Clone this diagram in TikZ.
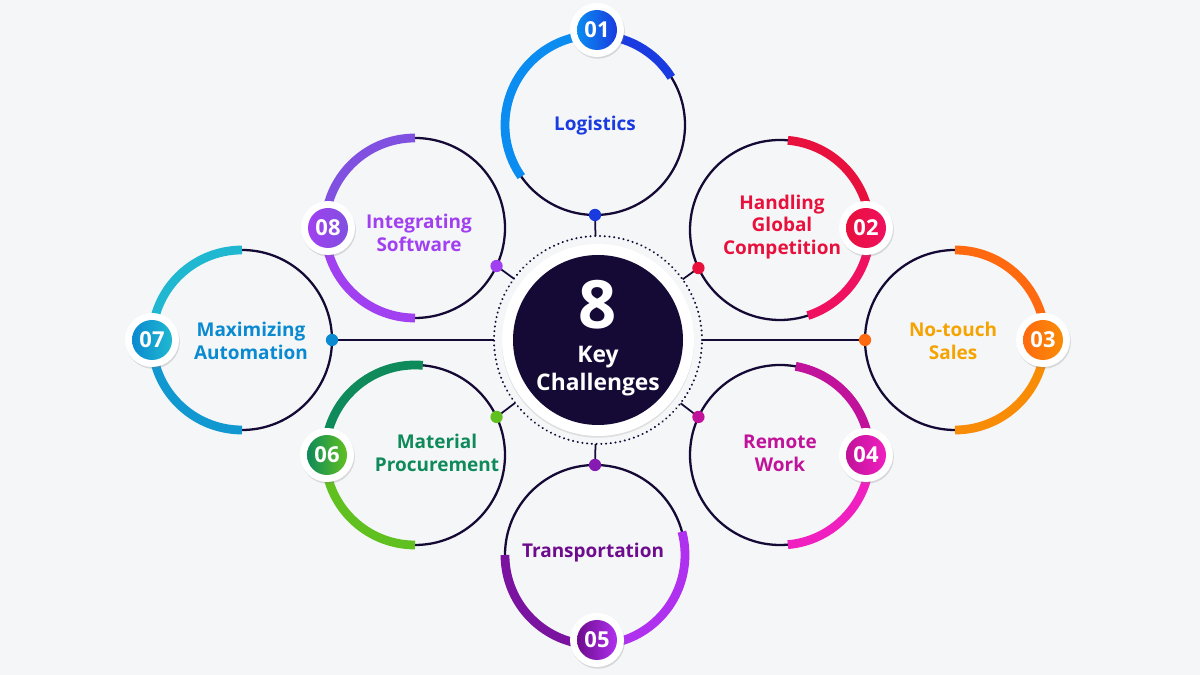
\documentclass[tikz,border=0pt]{standalone}
\usepackage{fontspec}
\setmainfont{Open Sans}
\usetikzlibrary{shadows,calc}
\definecolor{bg}{HTML}{F5F6F8}
\definecolor{navy}{HTML}{150A35}
\definecolor{cA}{HTML}{1A3BE0}\definecolor{cAa}{HTML}{0A8CF0}
\definecolor{cB}{HTML}{E8103C}\definecolor{cBb}{HTML}{F01060}
\definecolor{cC}{HTML}{F5A300}\definecolor{cCc}{HTML}{FF6A10}
\definecolor{cD}{HTML}{C0129A}\definecolor{cDd}{HTML}{F020C0}
\definecolor{cE}{HTML}{6D0C8C}\definecolor{cEe}{HTML}{B030F0}
\definecolor{cF}{HTML}{0F8A5A}\definecolor{cFf}{HTML}{60C020}
\definecolor{cG}{HTML}{0A8AD0}\definecolor{cGg}{HTML}{20B8D0}
\definecolor{cH}{HTML}{A040F0}\definecolor{cHh}{HTML}{8050E0}
\tikzset{
 ring/.style={draw=navy,line width=1.3pt},
 arcst/.style={line width=5pt},
 lbl/.style={font=\bfseries\fontsize{10.8}{13}\selectfont,align=center},
 num/.style={font=\bfseries\fontsize{12.5}{14}\selectfont,text=white},
 dotst/.style={circle,inner sep=0pt,minimum size=7pt},
}
\newcommand{\badge}[4]{% name, pos, c1, c2
 \fill[white,drop shadow={opacity=0.25,shadow xshift=0.5pt,shadow yshift=-1pt}] (#2) circle[radius=27];
 \shade[left color=#3,right color=#4] (#2) circle[radius=20];
 \node[num] (#1) at (#2) {#1};}
\begin{document}
\begin{tikzpicture}[x=0.02cm,y=0.02cm]
\fill[bg] (0,0) rectangle (1200,675);
\useasboundingbox (0,0) rectangle (1200,675);
\coordinate (C) at (598,335);
\coordinate (c1) at (595,550);
\coordinate (c2) at (780,445);
\coordinate (c3) at (955,335);
\coordinate (c4) at (780,220);
\coordinate (c5) at (595,120);
\coordinate (c6) at (415,220);
\coordinate (c7) at (242,335);
\coordinate (c8) at (415,447);
% dots
\foreach \c/\a/\n in {c1/270/d1,c2/205/d2,c3/180/d3,c4/155/d4,c5/90/d5,c6/25/d6,c7/0/d7,c8/335/d8}
  \coordinate (\n) at ($(\c)+(\a:90)$);
\foreach \n in {d1,d2,d3,d4,d5,d6,d7,d8} \draw[navy,line width=1pt] (C) -- (\n);
% circles
\foreach \c in {c1,c2,c3,c4,c5,c6,c7,c8} \draw[ring] (\c) circle[radius=90];
\draw[arcst,cAa] (c1) ++(215:90) arc[start angle=215,end angle=90,radius=90];
\draw[arcst,cA] (c1) ++(90:90) arc[start angle=90,end angle=32,radius=90];
\draw[arcst,cB] (c2) ++(85:90) arc[start angle=85,end angle=0,radius=90];
\draw[arcst,cBb] (c2) ++(0:90) arc[start angle=0,end angle=-72,radius=90];
\draw[arcst,cCc] (c3) ++(90:90) arc[start angle=90,end angle=0,radius=90];
\draw[arcst,cC!60!cCc] (c3) ++(0:90) arc[start angle=0,end angle=-90,radius=90];
\draw[arcst,cD] (c4) ++(80:90) arc[start angle=80,end angle=0,radius=90];
\draw[arcst,cDd] (c4) ++(0:90) arc[start angle=0,end angle=-85,radius=90];
\draw[arcst,cE!80!cEe] (c5) ++(180:90) arc[start angle=180,end angle=270,radius=90];
\draw[arcst,cEe] (c5) ++(270:90) arc[start angle=270,end angle=375,radius=90];
\draw[arcst,cF] (c6) ++(85:90) arc[start angle=85,end angle=180,radius=90];
\draw[arcst,cFf] (c6) ++(180:90) arc[start angle=180,end angle=270,radius=90];
\draw[arcst,cGg] (c7) ++(90:90) arc[start angle=90,end angle=180,radius=90];
\draw[arcst,cG!70!cGg] (c7) ++(180:90) arc[start angle=180,end angle=270,radius=90];
\draw[arcst,cHh] (c8) ++(90:90) arc[start angle=90,end angle=180,radius=90];
\draw[arcst,cH] (c8) ++(180:90) arc[start angle=180,end angle=270,radius=90];
% dots
\node[dotst,fill=cA] at (d1) {};
\node[dotst,fill=cB] at (d2) {};
\node[dotst,fill=cCc] at (d3) {};
\node[dotst,fill=cD] at (d4) {};
\node[dotst,fill=cE!60!cEe] at (d5) {};
\node[dotst,fill=cFf] at (d6) {};
\node[dotst,fill=cG] at (d7) {};
\node[dotst,fill=cH] at (d8) {};
% center
\fill[bg] (C) circle[radius=104];
\draw[navy,line width=1.2pt,dash pattern=on 0.1pt off 2.6pt,line cap=round] (C) circle[radius=104];
\fill[white,drop shadow={opacity=0.2,shadow xshift=0pt,shadow yshift=-1pt}] (C) circle[radius=96];
\fill[navy] (C) circle[radius=85];
\node[text=white,font=\bfseries\fontsize{38}{38}\selectfont] (eight) at (598,370) {8};
\node[text=white,align=center,font=\bfseries\fontsize{13}{15.5}\selectfont] (kc) at (598,304) {Key\\Challenges};
% labels
\node[lbl,text=cA] (l1) at (595,549) {Logistics};
\node[lbl,text=cB] (l2) at (782,448) {Handling\\Global\\Competition};
\node[lbl,text=cC] (l3) at (953,334) {No-touch\\Sales};
\node[lbl,text=cD] (l4) at (780,222) {Remote\\Work};
\node[lbl,text=cE] (l5) at (593,122) {Transportation};
\node[lbl,text=cF] (l6) at (437,222) {Material\\Procurement};
\node[lbl,text=cG] (l7) at (251,334) {Maximizing\\Automation};
\node[lbl,text=cH] (l8) at (419,442) {Integrating\\Software};
% badges
\coordinate (b1) at (597,645);
\coordinate (b2) at (866,447);
\coordinate (b3) at (1043,335);
\coordinate (b4) at (866,220);
\coordinate (b5) at (597,35);
\coordinate (b6) at (327,220);
\coordinate (b7) at (152,335);
\coordinate (b8) at (328,447);
\badge{01}{b1}{cAa}{cA}
\badge{02}{b2}{cB}{cBb}
\badge{03}{b3}{cCc}{cC!60!cCc}
\badge{04}{b4}{cD}{cDd}
\badge{05}{b5}{cE}{cEe}
\badge{06}{b6}{cF}{cFf}
\badge{07}{b7}{cG}{cGg}
\badge{08}{b8}{cH}{cHh}
\end{tikzpicture}
\end{document}
